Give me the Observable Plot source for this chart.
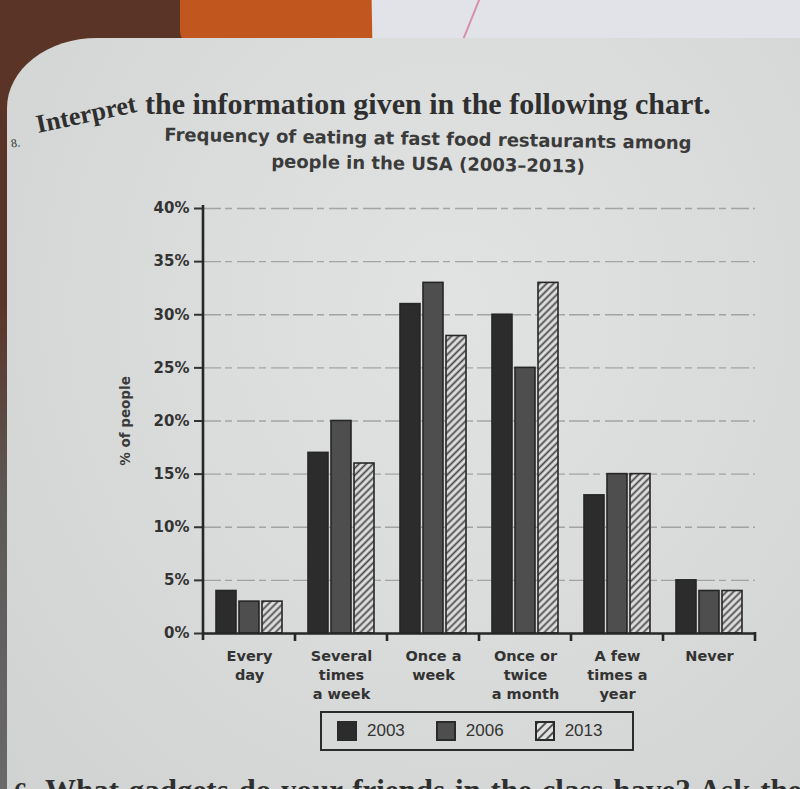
<!DOCTYPE html>
<html>
<head>
<meta charset="utf-8">
<script src="https://cdn.jsdelivr.net/npm/d3@7"></script>
<script src="https://cdn.jsdelivr.net/npm/@observablehq/plot@0.6"></script>
<style>
html, body { margin: 0; padding: 0; }
body { width: 800px; height: 789px; overflow: hidden; position: relative; background: #5a3426; font-family: "DejaVu Sans", sans-serif; }
#fabric { position: absolute; left: 180px; top: -10px; width: 230px; height: 52px; background: #c2561f; border-radius: 0 0 40px 10px; }
#note { position: absolute; left: 372px; top: -8px; width: 450px; height: 54px; background: #e2e3e8; transform: rotate(-1deg); }
#noteline { position: absolute; left: 470px; top: -4px; width: 2px; height: 48px; background: #d98fa8; transform: rotate(22deg); }
#strip { position: absolute; left: 0; top: 300px; width: 9px; height: 500px; background: linear-gradient(#5a3426, #5c5856 40%, #6a6a6a); }
#page { position: absolute; left: 7px; top: 38px; width: 810px; height: 770px; border-top-left-radius: 90px 70px;
  background: radial-gradient(ellipse at 55% 35%, #e1e3e2 0%, #dadcdb 45%, #cfd2d1 100%); }
.serif { font-family: "Liberation Serif", "DejaVu Serif", serif; font-weight: bold; color: #2f2f2f; position: absolute; white-space: nowrap; }
#heading1 { left: 38px; top: 112px; font-size: 26px; line-height: 26px; transform-origin: 0 21.5px; transform: rotate(-12deg); }
#heading2 { left: 145px; top: 93px; font-size: 30px; line-height: 22px; }
#qnum { left: 11px; top: 136px; font-size: 12px; font-weight: normal; transform: rotate(-8deg); }
#bottomnum { left: 14px; top: 776px; font-size: 26px; line-height: 31px; }
#bottomline { left: 45px; top: 775px; font-size: 31px; line-height: 31px; word-spacing: 2px; }
.sub { position: absolute; left: 428px; width: max-content; font-weight: bold; font-size: 18px; line-height: 18px; color: #3b3b3b; white-space: nowrap; transform: translateX(-50%) rotate(0.9deg); }
#sub1 { top: 130px; }
#sub2 { top: 155px; }
#chart { position: absolute; left: 0; top: 190px; }
#ylabel { position: absolute; left: 125px; top: 421px; transform: translate(-50%, -50%) rotate(-90deg); font-weight: bold; font-size: 13.5px; color: #3b3b3b; white-space: nowrap; }
#legend { position: absolute; left: 320px; top: 711px; width: 295px; height: 36px; border: 2px solid #2b2b2b; display: flex; align-items: center; padding-left: 15px; font-family: "Liberation Sans", Arial, sans-serif; font-size: 17px; color: #333; }
.item { display: flex; align-items: center; margin-right: 31px; }
.item svg { margin-right: 10px; }
</style>
</head>
<body>
<div id="fabric"></div>
<div id="note"></div>
<div id="noteline"></div>
<div id="strip"></div>
<div id="page"></div>
<div id="qnum" class="serif">8.</div>
<div id="heading1" class="serif">Interpret</div>
<div id="heading2" class="serif">the information given in the following chart.</div>
<div id="sub1" class="sub">Frequency of eating at fast food restaurants among</div>
<div id="sub2" class="sub">people in the USA (2003–2013)</div>
<div id="chart"></div>
<div id="ylabel">% of people</div>
<div id="legend"></div>
<div id="bottomnum" class="serif">6.</div>
<div id="bottomline" class="serif">What gadgets do your friends in the class have? Ask them</div>
<script>
const categories = ["Every day", "Several times a week", "Once a week", "Once or twice a month", "A few times a year", "Never"];
const categoryLabels = ["Every\nday", "Several\ntimes\na week", "Once a\nweek", "Once or\ntwice\na month", "A few\ntimes a\nyear", "Never"];
const years = ["2003", "2006", "2013"];
const values2003 = [4, 17, 31, 30, 13, 5];
const values2006 = [3, 20, 33, 25, 15, 4];
const values2013 = [3, 16, 28, 33, 15, 4];
const yTicks = [0, 5, 10, 15, 20, 25, 30, 35, 40];
const yearFills = ["#2c2c2c", "#4e4e4e", "url(#hatch2013)"];

const seriesByYear = {"2003": values2003, "2006": values2006, "2013": values2013};
const data = categories.flatMap((c, i) => years.map(yr => ({category: c, year: yr, value: seriesByYear[yr][i]})));

const plot = Plot.plot({
  width: 800,
  height: 520,
  marginLeft: 203,
  marginRight: 45,
  marginTop: 18,
  marginBottom: 77,
  style: {background: "transparent", fontFamily: "DejaVu Sans", color: "#333", overflow: "visible"},
  fx: {domain: categories, padding: 0, label: null},
  x: {domain: years, axis: null, paddingInner: 0.12, paddingOuter: 0.52},
  y: {domain: [0, 40], label: null},
  color: {domain: years, range: yearFills},
  marks: [
    Plot.ruleY(yTicks.slice(1), {stroke: "#8a8a8a", strokeWidth: 1.3, strokeDasharray: "18,4,7,5", strokeOpacity: 0.7}),
    Plot.barY(data, {fx: "category", x: "year", y: "value", fill: "year", stroke: "#262626", strokeWidth: 1.6}),
    Plot.ruleY([0], {stroke: "#262626", strokeWidth: 2.6}),
    Plot.axisY({ticks: yTicks, tickFormat: d => d + "%", tickSize: 9, tickPadding: 5, fontSize: 15, fontWeight: "bold", strokeWidth: 2, label: null}),
    Plot.axisFx({anchor: "bottom", tickFormat: d => categoryLabels[categories.indexOf(d)], tickSize: 0, tickPadding: 14, fontSize: 14.5, fontWeight: "bold", lineHeight: 1.3, label: null})
  ]
});

const svg = d3.select(plot);
svg.insert("defs", ":first-child").html(
  '<pattern id="hatch2013" patternUnits="userSpaceOnUse" width="5" height="5" patternTransform="rotate(45)">' +
  '<rect width="5" height="5" fill="#e0e1e0"/><line x1="2.5" y1="0" x2="2.5" y2="5" stroke="#474747" stroke-width="1.8"/></pattern>'
);

// axis line and group-boundary ticks from the library's own scales
const fx = plot.scale("fx");
const ys = plot.scale("y");
const x0 = fx.apply(categories[0]);
const yTop = ys.apply(40), yZero = ys.apply(0);
const g = svg.append("g").attr("stroke", "#262626").attr("stroke-width", 2.6);
g.append("line").attr("x1", x0).attr("x2", x0).attr("y1", yTop - 3).attr("y2", yZero + 7);
categories.slice(1).forEach(c => {
  const xx = fx.apply(c);
  g.append("line").attr("x1", xx).attr("x2", xx).attr("y1", yZero).attr("y2", yZero + 8);
});
const xEnd = fx.apply(categories[categories.length - 1]) + fx.step;
g.append("line").attr("x1", xEnd).attr("x2", xEnd).attr("y1", yZero - 1).attr("y2", yZero + 8);

document.getElementById("chart").appendChild(plot);

// legend
const legend = d3.select("#legend");
years.forEach((yr, i) => {
  const item = legend.append("div").attr("class", "item");
  const s = item.append("svg").attr("width", 20).attr("height", 20);
  if (i === 2) {
    s.append("defs").html('<pattern id="hatchLeg" patternUnits="userSpaceOnUse" width="6" height="6" patternTransform="rotate(45)">' +
      '<rect width="6" height="6" fill="#e0e1e0"/><line x1="3" y1="0" x2="3" y2="6" stroke="#474747" stroke-width="1.8"/></pattern>');
  }
  s.append("rect").attr("x", 1).attr("y", 1).attr("width", 18).attr("height", 18)
    .attr("fill", i === 2 ? "url(#hatchLeg)" : yearFills[i]).attr("stroke", "#2a2a2a").attr("stroke-width", 2);
  item.append("span").text(yr);
});
</script>
</body>
</html>
